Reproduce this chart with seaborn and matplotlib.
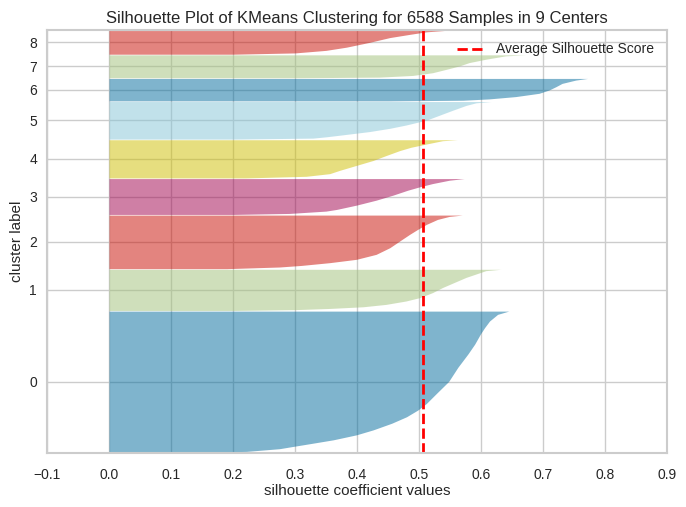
import numpy as np
import seaborn as sns
import matplotlib.pyplot as plt

# cluster sizes (number of samples per cluster)
sizes = [2233, 651, 847, 567, 604, 594, 355, 363, 374]
cluster_labels = ['0', '1', '2', '3', '4', '5', '6', '7', '8']

# sorted silhouette values per cluster: fraction of the cluster (bottom->top) and value
c0_frac = [0.0, 0.007, 0.026, 0.042, 0.065, 0.089, 0.124, 0.159, 0.206, 0.252, 0.299, 0.346,
           0.416, 0.502, 0.603, 0.696, 0.766, 0.836, 0.883, 0.930, 0.977, 1.0]
c0_vals = [0.15, 0.222, 0.275, 0.297, 0.329, 0.362, 0.399, 0.426, 0.456, 0.480, 0.498, 0.512,
           0.528, 0.548, 0.563, 0.579, 0.590, 0.599, 0.606, 0.614, 0.627, 0.645]
c1_frac = [0.0, 0.02, 0.049, 0.090, 0.148, 0.230, 0.311, 0.434, 0.557, 0.680, 0.803, 0.885, 0.967, 1.0]
c1_vals = [0.20, 0.30, 0.356, 0.410, 0.447, 0.479, 0.501, 0.522, 0.538, 0.557, 0.576, 0.592, 0.608, 0.632]
c2_frac = [0.0, 0.031, 0.06, 0.112, 0.174, 0.267, 0.391, 0.516, 0.640, 0.733, 0.826, 0.919, 0.975, 1.0]
c2_vals = [0.19, 0.275, 0.31, 0.356, 0.399, 0.431, 0.453, 0.469, 0.485, 0.498, 0.512, 0.530, 0.549, 0.570]
c3_frac = [0.0, 0.028, 0.093, 0.139, 0.259, 0.398, 0.537, 0.676, 0.769, 0.861, 0.954, 1.0]
c3_vals = [0.20, 0.291, 0.350, 0.367, 0.399, 0.431, 0.458, 0.482, 0.501, 0.522, 0.549, 0.573]
c4_frac = [0.0, 0.043, 0.112, 0.198, 0.328, 0.457, 0.586, 0.716, 0.802, 0.888, 0.974, 1.0]
c4_vals = [0.22, 0.318, 0.356, 0.372, 0.399, 0.426, 0.447, 0.469, 0.487, 0.512, 0.538, 0.562]
c5_frac = [0.0, 0.026, 0.06, 0.113, 0.2, 0.287, 0.374, 0.504, 0.635, 0.765, 0.896, 0.965, 1.0]
c5_vals = [0.20, 0.329, 0.35, 0.377, 0.420, 0.453, 0.479, 0.512, 0.533, 0.554, 0.576, 0.592, 0.616]
c6_frac = [0.0, 0.029, 0.088, 0.191, 0.338, 0.485, 0.632, 0.779, 0.926, 1.0]
c6_vals = [0.45, 0.571, 0.613, 0.656, 0.694, 0.710, 0.721, 0.731, 0.753, 0.772]
c7_frac = [0.0, 0.029, 0.103, 0.221, 0.368, 0.515, 0.662, 0.809, 0.956, 1.0]
c7_vals = [0.30, 0.436, 0.490, 0.522, 0.544, 0.565, 0.581, 0.608, 0.640, 0.672]
c8_frac = [0.0, 0.054, 0.162, 0.297, 0.5, 0.703, 0.838, 0.946, 1.0]
c8_vals = [0.20, 0.30, 0.35, 0.383, 0.420, 0.453, 0.485, 0.512, 0.541]

fracs = [c0_frac, c1_frac, c2_frac, c3_frac, c4_frac, c5_frac, c6_frac, c7_frac, c8_frac]
vals = [c0_vals, c1_vals, c2_vals, c3_vals, c4_vals, c5_vals, c6_vals, c7_vals, c8_vals]

avg_score = 0.507
n_samples = sum(sizes)

palette = ['#006b9d', '#a1c179', '#c90a00', '#a0004d', '#cfbf01', '#85c5d7']

sns.set_theme(style='whitegrid')
plt.rcParams['font.family'] = ['Liberation Sans', 'DejaVu Sans']
plt.rcParams['axes.edgecolor'] = '#cccccc'
plt.rcParams['grid.color'] = '#cccccc'

fig, ax = plt.subplots(figsize=(6.86, 5.07), dpi=100)
fig.subplots_adjust(left=0.0685, right=0.972, bottom=0.1065, top=0.941)

y_lower = 10
ticks = []
for i in range(len(sizes)):
    y = y_lower + np.array(fracs[i]) * sizes[i]
    color = palette[i % len(palette)]
    ax.fill_betweenx(y, 0, vals[i], facecolor=color, edgecolor=color, alpha=0.5, linewidth=0)
    ticks.append(y_lower + 0.5 * sizes[i])
    y_lower += sizes[i] + 10

ax.axvline(avg_score, color='red', linestyle='--', linewidth=2, label='Average Silhouette Score')

ax.set_title('Silhouette Plot of KMeans Clustering for {} Samples in {} Centers'.format(n_samples, len(sizes)),
             fontsize=12, color='#262626', pad=5)
ax.set_xlim(-0.1, 0.9)
ax.set_ylim(0, y_lower)
ax.set_xticks(np.arange(-0.1, 0.95, 0.1))
ax.set_xticklabels(['−0.1', '0.0', '0.1', '0.2', '0.3', '0.4', '0.5', '0.6', '0.7', '0.8', '0.9'])
ax.set_yticks(ticks)
ax.set_yticklabels(cluster_labels)
ax.tick_params(axis='x', labelsize=10, pad=5)
ax.tick_params(axis='y', labelsize=10, pad=1.2)
ax.set_xlabel('silhouette coefficient values', fontsize=11, labelpad=1.5)
ax.set_ylabel('cluster label', fontsize=11, labelpad=3.6)
for s in ax.spines.values():
    s.set_linewidth(1.5)
ax.legend(loc='upper right', frameon=False, fontsize=10)

fig.savefig('out.png')
